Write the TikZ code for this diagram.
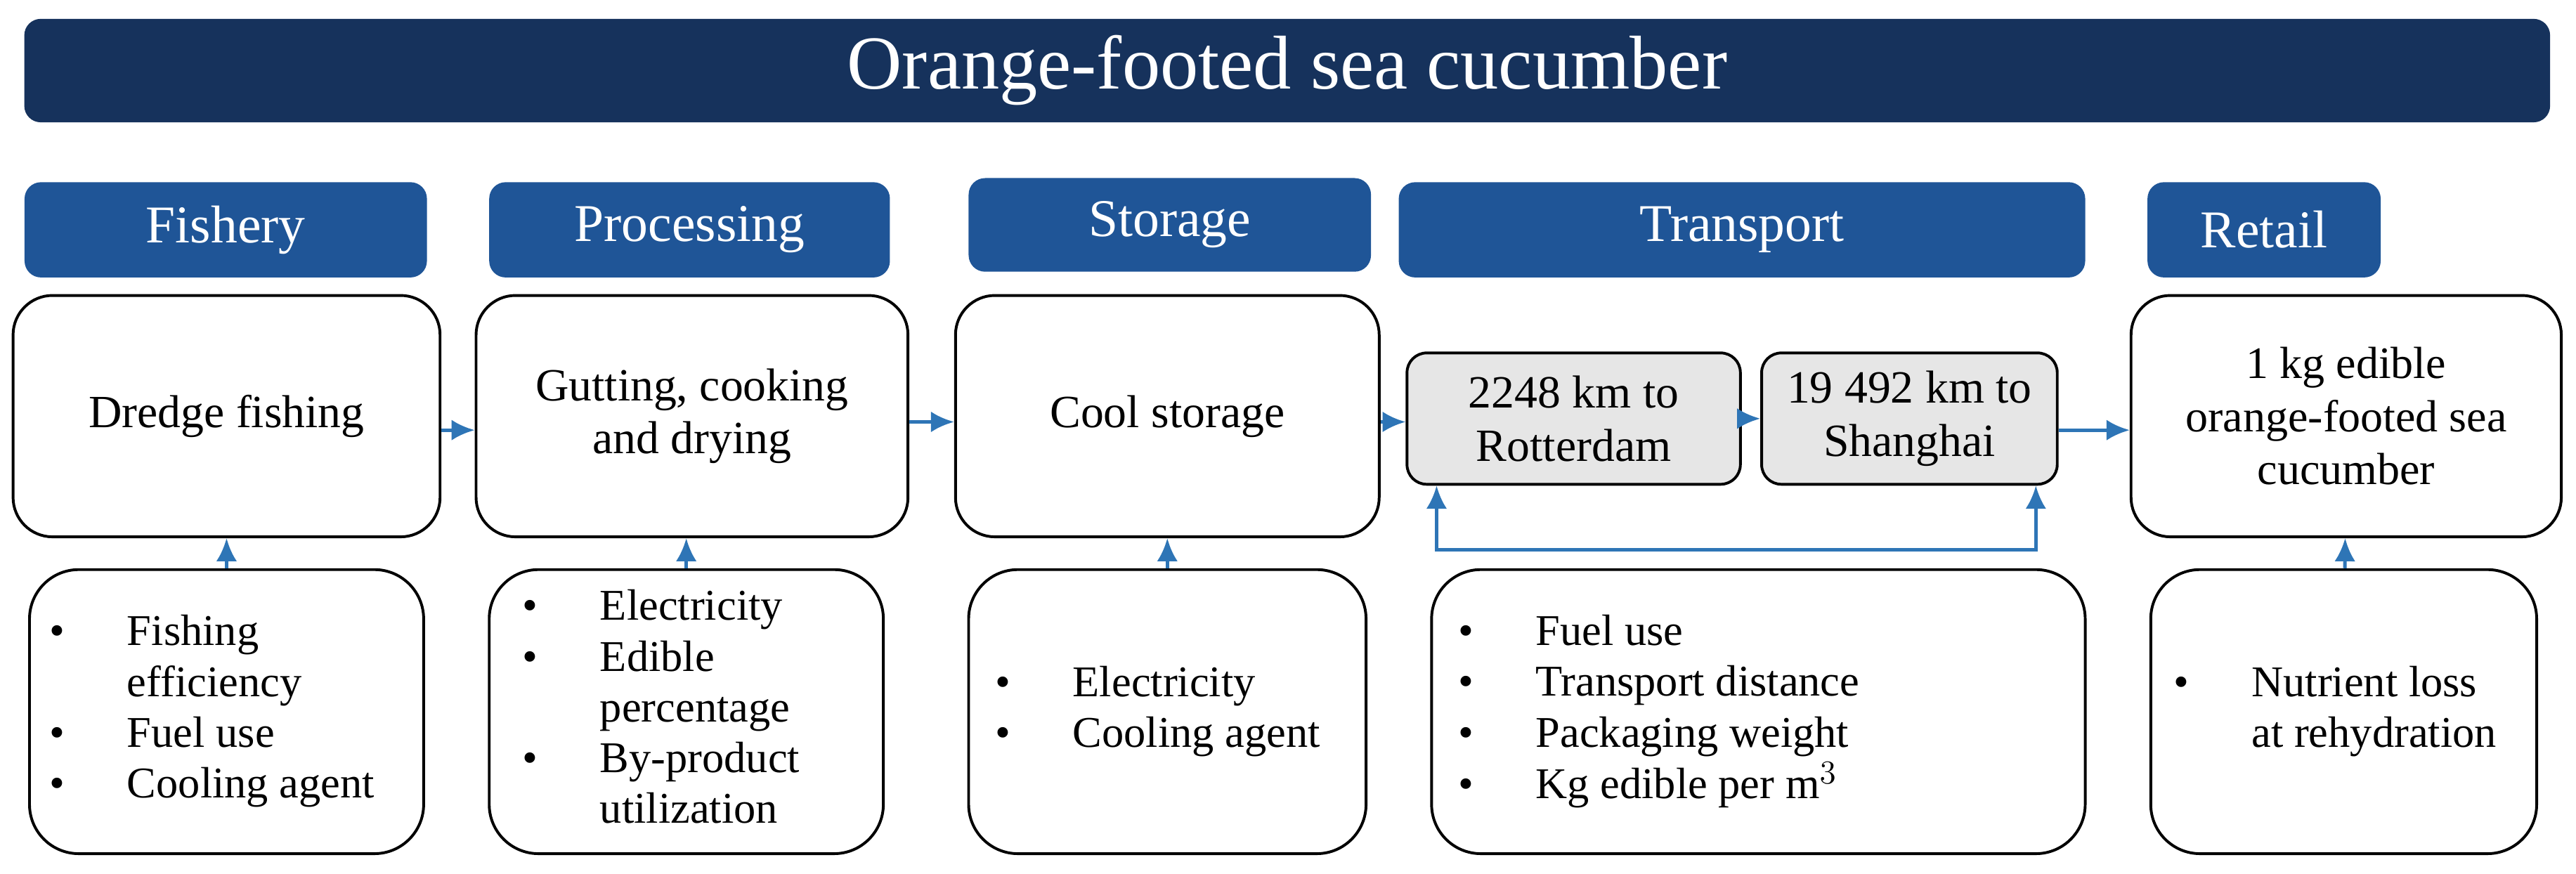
\documentclass[tikz,border=0pt]{standalone}
\usepackage{fontspec}
\setmainfont{Liberation Serif}
\usetikzlibrary{arrows.meta}
\definecolor{navy}{RGB}{22,50,92}
\definecolor{stageblue}{RGB}{31,85,151}
\definecolor{arrowblue}{RGB}{46,117,182}
\definecolor{legbox}{RGB}{230,230,230}
\tikzset{
  stage/.style={fill=stageblue,rounded corners=0.25cm,text=white,font=\fontsize{23}{26}\selectfont,minimum height=1.45cm},
  stepbox/.style={draw=black,line width=1.2pt,rounded corners=0.6cm,align=center,font=\fontsize{20}{23}\selectfont,minimum height=3.675cm},
  leg/.style={draw=black,line width=1.2pt,fill=legbox,rounded corners=0.3cm,align=center,font=\fontsize{20}{23}\selectfont,minimum height=2cm},
  input/.style={draw=black,line width=1.2pt,rounded corners=0.75cm,minimum height=4.325cm},
  items/.style={anchor=west,align=left,font=\fontsize{19}{22}\selectfont},
  flow/.style={draw=arrowblue,line width=1.5pt,-{Latex[length=10pt,width=9pt]}}
}
\newcommand{\bl}{\textbullet}
\begin{document}
\begin{tikzpicture}[x=0.025cm,y=-0.025cm]
  \useasboundingbox (0,0) rectangle (1569,532);
  \node[fill=navy,rounded corners=0.25cm,text=white,minimum width=38.45cm,minimum height=1.575cm,
        font=\fontsize{33}{36}\selectfont] (title) at (784,43) {Orange-footed sea cucumber};
  % stage headers
  \node[stage,minimum width=6.125cm] (hfish) at (137.5,140) {Fishery};
  \node[stage,minimum width=6.1cm] (hproc) at (420,140) {Processing};
  \node[stage,minimum width=6.125cm,minimum height=1.425cm] (hstor) at (712.5,137) {Storage};
  \node[stage,minimum width=10.45cm] (htrans) at (1061,140) {Transport};
  \node[stage,minimum width=3.55cm] (hret) at (1379,140) {Retail};
  % main steps
  \node[stepbox,minimum width=6.5cm] (fish) at (138,253.5) {Dredge fishing};
  \node[stepbox,minimum width=6.575cm] (proc) at (421.5,253.5) {Gutting, cooking\\and drying};
  \node[stepbox,minimum width=6.45cm] (stor) at (711,253.5) {Cool storage};
  \node[leg,minimum width=5.075cm] (leg1) at (958.5,255) {2248 km to\\Rotterdam};
  \node[leg,minimum width=4.5cm] (leg2) at (1163,255) {19 492 km to\\Shanghai};
  \node[stepbox,minimum width=6.55cm,font=\fontsize{19.5}{23}\selectfont] (ret) at (1429,253.5) {1 kg edible\\orange-footed sea\\cucumber};
  % inputs
  \node[input,minimum width=6cm] (ifish) at (138,433.5) {};
  \node[input,minimum width=6cm] (iproc) at (418,433.5) {};
  \node[input,minimum width=6.05cm] (istor) at (711,433.5) {};
  \node[input,minimum width=9.95cm] (itrans) at (1071,433.5) {};
  \node[input,minimum width=5.875cm] (iret) at (1427.5,433.5) {};
  \node[items] at ([xshift=0.2cm]ifish.west) {\begin{tabular}{@{}l@{\hspace{0.95cm}}l@{}}
    \bl & Fishing\\ & efficiency\\ \bl & Fuel use\\ \bl & Cooling agent\end{tabular}};
  \node[items] at ([xshift=0.4cm]iproc.west) {\begin{tabular}{@{}l@{\hspace{0.95cm}}l@{}}
    \bl & Electricity\\ \bl & Edible\\ & percentage\\ \bl & By-product\\ & utilization\end{tabular}};
  \node[items] at ([xshift=0.3cm]istor.west) {\begin{tabular}{@{}l@{\hspace{0.95cm}}l@{}}
    \bl & Electricity\\ \bl & Cooling agent\end{tabular}};
  \node[items] at ([xshift=0.3cm]itrans.west) {\begin{tabular}{@{}l@{\hspace{0.95cm}}l@{}}
    \bl & Fuel use\\ \bl & Transport distance\\ \bl & Packaging weight\\ \bl & Kg edible per m$^3$\end{tabular}};
  \node[items] at ([xshift=0.25cm]iret.west) {\begin{tabular}{@{}l@{\hspace{0.95cm}}l@{}}
    \bl & Nutrient loss\\ & at rehydration\end{tabular}};
  % connectors
  \coordinate (ya) at (0,262);
  \coordinate (yb) at (0,257);
  \coordinate (xl) at (875,0);
  \coordinate (xr) at (1240,0);
  \draw[flow] (fish.east |- ya) -- (proc.west |- ya);
  \draw[flow] (proc.east |- yb) -- (stor.west |- yb);
  \draw[flow] (stor.east |- yb) -- (leg1.west |- yb);
  \draw[flow] (leg1) -- (leg2);
  \draw[flow] (leg2.east |- ya) -- (ret.west |- ya);
  \draw[flow] (ifish) -- (fish);
  \draw[flow] (iproc.north) -- (proc.south -| iproc.north);
  \draw[flow] (istor) -- (stor);
  \draw[flow] (iret) -- (ret);
  \coordinate (tj) at (1058,335);
  \draw[flow] (tj) -| (leg1.south -| xl);
  \draw[flow] (tj) -| (leg2.south -| xr);
\end{tikzpicture}
\end{document}
